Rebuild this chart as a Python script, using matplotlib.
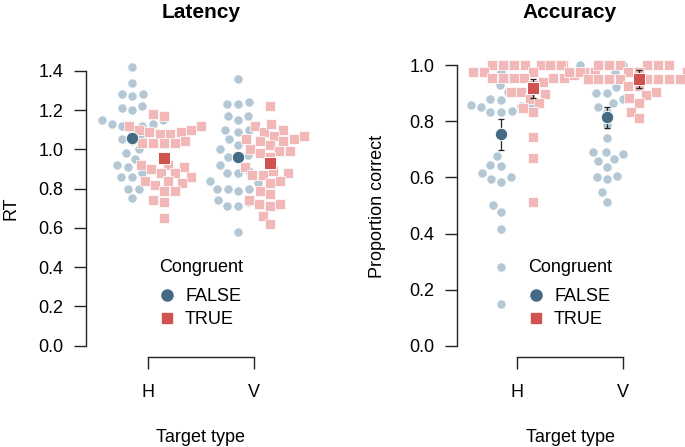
import numpy as np
import matplotlib as mpl
import matplotlib.pyplot as plt
import matplotlib.transforms as mtransforms
from matplotlib.lines import Line2D

# Target types on the x axis
target_types = ['H', 'V']

# Latency (RT) per participant
rt_h_false = [1.42, 1.34, 1.28, 1.27, 1.28, 1.22, 1.21, 1.20, 1.15, 1.15, 1.13, 1.12, 1.10, 1.12, 1.13,
              1.05, 1.06, 1.04, 1.00, 0.98, 0.95, 0.92, 0.91, 0.88, 0.86, 0.86, 0.80, 0.80, 0.75]
rt_h_true = [1.17, 1.18, 1.12, 1.10, 1.10, 1.09, 1.08, 1.09, 1.08, 1.12, 1.03, 1.03, 1.03, 1.03, 1.04,
             0.92, 0.91, 0.88, 0.88, 0.90, 0.92, 0.86, 0.83, 0.84, 0.82, 0.84, 0.79, 0.79, 0.73, 0.74, 0.65]
rt_v_false = [1.36, 1.24, 1.23, 1.23, 1.17, 1.15, 1.17, 1.10, 1.10, 1.09, 1.05, 1.02, 1.00, 0.97, 0.96,
              0.95, 0.92, 0.89, 0.88, 0.88, 0.84, 0.83, 0.80, 0.80, 0.80, 0.79, 0.74, 0.73, 0.71, 0.71, 0.58]
rt_v_true = [1.22, 1.12, 1.09, 1.10, 1.13, 1.07, 1.07, 1.05, 1.05, 1.02, 1.04, 1.04, 1.00, 0.99, 0.96,
             0.98, 0.99, 0.91, 0.89, 0.88, 0.87, 0.87, 0.84, 0.83, 0.77, 0.79, 0.72, 0.71, 0.72, 0.74,
             0.66, 0.62]
rt_mean_false = [1.06, 0.963]
rt_mean_true = [0.958, 0.929]

# Accuracy (proportion correct) per participant
acc_h_false = [1.0, 1.0, 0.976, 0.95, 0.93, 0.905, 0.88, 0.875, 0.858, 0.858, 0.852, 0.855, 0.832, 0.832,
               0.836, 0.676, 0.641, 0.644, 0.60, 0.585, 0.594, 0.615, 0.502, 0.478, 0.415, 0.282, 0.148]
acc_h_true = [1.0, 1.0, 1.0, 1.0, 1.0, 1.0, 1.0, 0.976, 0.976, 0.976, 0.976, 0.976, 0.965,
              0.953, 0.953, 0.953, 0.953, 0.953, 0.953, 0.94, 0.93, 0.905, 0.897, 0.903, 0.88, 0.864,
              0.846, 0.834, 0.745, 0.668, 0.514]
acc_v_false = [1.0, 1.0, 1.0, 0.976, 0.976, 0.95, 0.95, 0.92, 0.90, 0.90, 0.88, 0.864, 0.852, 0.832,
               0.786, 0.739, 0.683, 0.69, 0.69, 0.665, 0.658, 0.636, 0.606, 0.594, 0.60, 0.547, 0.514]
acc_v_true = [1.0, 1.0, 1.0, 1.0, 1.0, 1.0, 1.0, 1.0, 1.0, 1.0, 0.976, 0.976, 0.976, 0.976, 0.976, 0.976,
              0.976, 0.949, 0.949, 0.949, 0.949, 0.949, 0.949, 0.949, 0.949, 0.926, 0.926, 0.903, 0.893,
              0.881, 0.864, 0.834, 0.81]
acc_mean_false = [0.753, 0.815]
acc_ci_low_false = [0.697, 0.777]
acc_ci_high_false = [0.808, 0.852]
acc_mean_true = [0.917, 0.949]
acc_ci_low_true = [0.884, 0.917]
acc_ci_high_true = [0.950, 0.982]

# colours
LIGHT_FALSE = '#b4c7d4'
DARK_FALSE = '#456b84'
LIGHT_TRUE = '#f2b8b8'
DARK_TRUE = '#d05352'

FONT_SIZE = 13
DODGE = 0.15
SPACING_PX = 10.7

mpl.rcParams['font.family'] = ['Liberation Sans', 'DejaVu Sans']


def swarm_x(ax, xc, values, spacing):
    """
    Simple beeswarm: place each point (lowest first) at the x nearest the centre that does not overlap.
    Works in pixel space, returns x positions in data units.
    """
    trans = ax.transData
    pix = trans.transform(np.column_stack([np.full(len(values), xc), values]))
    x0 = pix[0, 0]
    ys = pix[:, 1]
    xs = np.zeros(len(values))
    placed = []
    for i in np.argsort(ys, kind='stable'):
        y = ys[i]
        cands = [0.0]
        for px, py in placed:
            dy = abs(py - y)
            if dy < spacing:
                dx = np.sqrt(spacing ** 2 - dy ** 2)
                cands += [px - dx, px + dx]
        ok = [c for c in cands
              if all((c - px) ** 2 + (y - py) ** 2 >= spacing ** 2 - 1e-6 for px, py in placed)]
        best = min(ok, key=lambda c: (round(abs(c), 6), c))
        xs[i] = best
        placed.append((best, y))
    return trans.inverted().transform(np.column_stack([x0 + xs, ys]))[:, 0]


def style_axes(ax, ymax_axis, yticks):
    for side in ['top', 'right']:
        ax.spines[side].set_visible(False)
    ax.spines['left'].set_bounds(0, ymax_axis)
    ax.spines['bottom'].set_bounds(1, 2)
    ax.spines['bottom'].set_position(('outward', 8))
    ax.set_xticks([1, 2])
    ax.set_xticklabels(target_types)
    ax.set_yticks(yticks)
    ax.set_yticklabels([f'{t:.1f}' for t in yticks])
    ax.tick_params(axis='both', direction='out', length=8.3, width=1, labelsize=FONT_SIZE)
    ax.tick_params(axis='y', pad=8)
    ax.tick_params(axis='x', pad=11)
    for s in ax.spines.values():
        s.set_linewidth(1)
        s.set_color('#222222')
    ax.tick_params(colors='#222222', labelcolor='black')


def draw_panel(ax, groups_false, groups_true, means_false, means_true):
    xs = np.arange(1, len(target_types) + 1)
    for x, vals in zip(xs, groups_false):
        ax.scatter(swarm_x(ax, x - DODGE, vals, SPACING_PX), vals, s=44, marker='o', color=LIGHT_FALSE,
                   edgecolor='white', linewidth=0.5, zorder=2)
    for x, vals in zip(xs, groups_true):
        ax.scatter(swarm_x(ax, x + DODGE, vals, SPACING_PX), vals, s=44, marker='s', color=LIGHT_TRUE,
                   edgecolor='white', linewidth=0.5, zorder=3)
    ax.scatter(xs - DODGE, means_false, s=80, marker='o', color=DARK_FALSE, edgecolor='white',
               linewidth=0.7, zorder=6)
    ax.scatter(xs + DODGE, means_true, s=70, marker='s', color=DARK_TRUE, edgecolor='white',
               linewidth=0.7, zorder=6)


def add_legend(ax, fig):
    blend = mtransforms.blended_transform_factory(ax.transData, fig.transFigure)
    # legend title, centred between H and V
    ax.text(1.5, 1 - 267 / H, 'Congruent', transform=blend, ha='center', va='center', fontsize=FONT_SIZE)
    handles = [Line2D([], [], marker='o', color=DARK_FALSE, linestyle='none', markersize=8),
               Line2D([], [], marker='s', color=DARK_TRUE, linestyle='none', markersize=7.5)]
    ax.legend(handles, ['FALSE', 'TRUE'], loc='center left',
              bbox_to_anchor=(1.5 - 43 / 106, 1 - 308 / H), bbox_transform=blend, frameon=False,
              fontsize=FONT_SIZE, handlelength=1.0, handletextpad=0.5,
              labelspacing=0.35, borderpad=0, borderaxespad=0)


W, H = 685, 447
fig = plt.figure(figsize=(W / 100, H / 100), dpi=100)

# Latency panel
ax1 = fig.add_axes([86 / W, (H - 345.7) / H, 244 / W, (345.7 - 55) / H])
ax1.set_xlim(1 - 62 / 106, 1 + 182 / 106)
ax1.set_ylim(0, (345.7 - 55) / 196.4)
draw_panel(ax1, [rt_h_false, rt_v_false], [rt_h_true, rt_v_true], rt_mean_false, rt_mean_true)
style_axes(ax1, 1.4, np.arange(0, 1.41, 0.2))

# Accuracy panel
ax2 = fig.add_axes([457 / W, (H - 346) / H, 228 / W, (346 - 55) / H])
ax2.set_xlim(1 - 60 / 106, 1 + 168 / 106)
ax2.set_ylim(0, (346 - 55) / 281)
draw_panel(ax2, [acc_h_false, acc_v_false], [acc_h_true, acc_v_true], acc_mean_false, acc_mean_true)
xs = np.arange(1, 3)
ax2.errorbar(xs - DODGE, acc_mean_false,
             yerr=[np.subtract(acc_mean_false, acc_ci_low_false), np.subtract(acc_ci_high_false, acc_mean_false)],
             fmt='none', ecolor='#222222', elinewidth=0.9, capsize=2, capthick=0.9, zorder=5)
ax2.errorbar(xs + DODGE, acc_mean_true,
             yerr=[np.subtract(acc_mean_true, acc_ci_low_true), np.subtract(acc_ci_high_true, acc_mean_true)],
             fmt='none', ecolor='#222222', elinewidth=0.9, capsize=2, capthick=0.9, zorder=5)
style_axes(ax2, 1.0, np.arange(0, 1.01, 0.2))

# Titles, axis labels and legends
for ax, title in [(ax1, 'Latency'), (ax2, 'Accuracy')]:
    blend = mtransforms.blended_transform_factory(ax.transData, fig.transFigure)
    ax.text(1.5, 1 - 12 / H, title, transform=blend, ha='center', va='center',
            fontsize=15, fontweight='bold')
    ax.text(1.5, 1 - 437 / H, 'Target type', transform=blend, ha='center', va='center', fontsize=FONT_SIZE)
    add_legend(ax, fig)

fig.text(11 / W, 1 - 208 / H, 'RT', rotation=90, ha='center', va='center', fontsize=FONT_SIZE)
fig.text(378 / W, 1 - 206 / H, 'Proportion correct', rotation=90, ha='center', va='center',
         fontsize=FONT_SIZE)

fig.savefig('out.png', dpi=100)
